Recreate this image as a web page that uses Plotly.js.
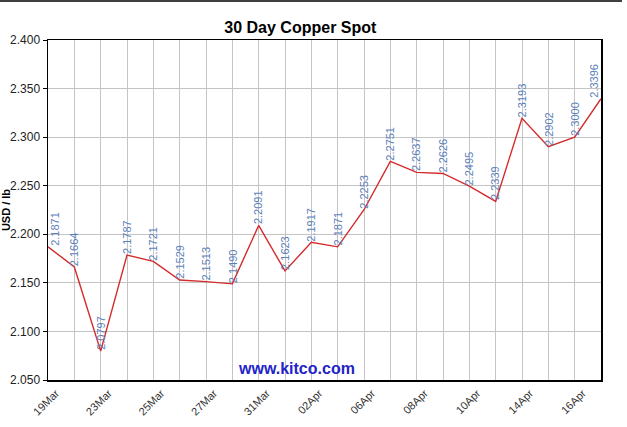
<!DOCTYPE html>
<html>
<head>
<meta charset="utf-8">
<script src="https://cdn.plot.ly/plotly-3.0.1.min.js"></script>
<style>html,body{margin:0;padding:0;background:#fff;}#chart{width:627px;height:427px;}</style>
</head>
<body>
<div id="chart"></div>
<script>
var dates = ["19Mar","20Mar","23Mar","24Mar","25Mar","26Mar","27Mar","30Mar","31Mar","01Apr","02Apr","03Apr","06Apr","07Apr","08Apr","09Apr","10Apr","13Apr","14Apr","15Apr","16Apr","17Apr"];
var prices = [2.1871,2.1664,2.0797,2.1787,2.1721,2.1529,2.1513,2.1490,2.2091,2.1623,2.1917,2.1871,2.2253,2.2751,2.2637,2.2626,2.2495,2.2339,2.3193,2.2902,2.3000,2.3396];
var tickLabels = ["19Mar","","23Mar","","25Mar","","27Mar","","31Mar","","02Apr","","06Apr","","08Apr","","10Apr","","14Apr","","16Apr",""];
var yTicks = [2.05,2.10,2.15,2.20,2.25,2.30,2.35,2.40];

var trace = {
  x: dates, y: prices, type: 'scatter', mode: 'lines',
  line: {color: '#d42a2a', width: 1.4},
  hoverinfo: 'x+y'
};

var ann = prices.map(function(v, i){
  return {
    x: dates[i], y: v, xref: 'x', yref: 'y',
    text: v.toFixed(4), showarrow: false, textangle: -90,
    xanchor: i === 0 ? 'left' : (i === prices.length - 1 ? 'right' : 'center'),
    yanchor: 'bottom',
    font: {family: 'Arial, Liberation Sans, sans-serif', size: 11, color: '#5b7fba'},
    borderpad: 0
  };
});
ann.push({
  xref: 'paper', yref: 'paper', x: 0.45, y: 0.035,
  text: '<b>www.kitco.com</b>', showarrow: false,
  xanchor: 'center', yanchor: 'middle',
  font: {family: 'Arial, Liberation Sans, sans-serif', size: 16, color: '#2323c8'}
});

var layout = {
  width: 627, height: 427,
  margin: {l: 48, r: 26, t: 40, b: 47, pad: 0},
  paper_bgcolor: '#ffffff', plot_bgcolor: '#ffffff',
  showlegend: false,
  title: {text: '<b>30 Day Copper Spot</b>', x: 0.479, xanchor: 'center', y: 0.937, yanchor: 'middle',
          font: {family: 'Arial, Liberation Sans, sans-serif', size: 16, color: '#000'}},
  xaxis: {
    type: 'category', range: [0, dates.length - 1],
    tickmode: 'array', tickvals: dates, ticktext: tickLabels,
    tickangle: -45, ticks: '', ticklabelshift: 8, ticklabelstandoff: 1,
    tickfont: {family: 'Arial, Liberation Sans, sans-serif', size: 11, color: '#333'},
    showgrid: true, gridcolor: '#c4c4c4', gridwidth: 1,
    showline: true, linecolor: '#000', linewidth: 1.5, mirror: true,
    zeroline: false
  },
  yaxis: {
    range: [2.05, 2.40], tickmode: 'array', tickvals: yTicks,
    ticktext: yTicks.map(function(t){return t.toFixed(3);}),
    ticks: 'outside', ticklen: 4, tickcolor: '#000',
    tickfont: {family: 'Arial, Liberation Sans, sans-serif', size: 12, color: '#222'},
    showgrid: true, gridcolor: '#c4c4c4', gridwidth: 1,
    showline: true, linecolor: '#000', linewidth: 1.5, mirror: true,
    zeroline: false,
    title: {text: '<b>USD / lb</b>', standoff: 4,
            font: {family: 'Arial, Liberation Sans, sans-serif', size: 11, color: '#000'}}
  },
  annotations: ann,
  shapes: [{type: 'line', xref: 'paper', yref: 'paper', x0: -0.09, x1: 1.038, y0: 1.1147, y1: 1.1147,
            line: {color: '#000', width: 1.5}}]
};

Plotly.newPlot('chart', [trace], layout, {displayModeBar: false, staticPlot: true});
</script>
</body>
</html>
